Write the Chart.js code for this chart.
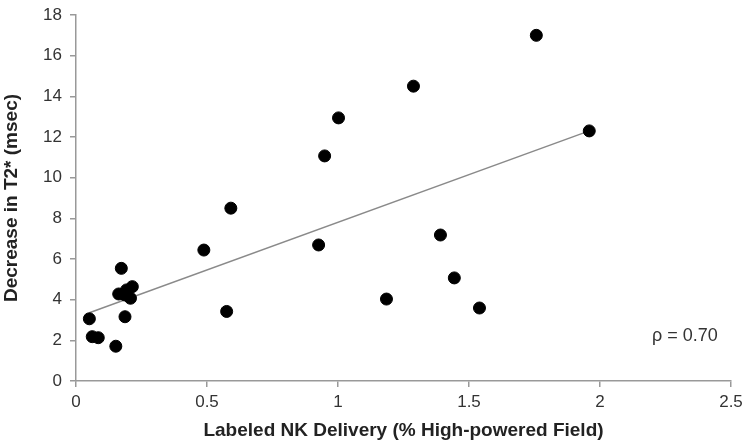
<!DOCTYPE html>
<html>
<head>
<meta charset="utf-8">
<script src="https://cdn.jsdelivr.net/npm/chart.js@4/dist/chart.umd.min.js"></script>
<style>
body { margin: 0; background: #fff; }
</style>
</head>
<body>
<canvas id="myChart" width="749" height="448"></canvas>
<script>
var xValues = [0.051, 0.062, 0.085, 0.152, 0.173, 0.163, 0.187, 0.193, 0.215, 0.208, 0.187,
               0.488, 0.575, 0.591, 0.926, 0.949, 1.002, 1.185, 1.288, 1.391, 1.444, 1.54, 1.757, 1.959];
var yValues = [3.06, 2.18, 2.13, 1.71, 5.54, 4.28, 3.16, 4.48, 4.64, 4.07, 4.23,
               6.44, 3.42, 8.5, 6.69, 11.07, 12.94, 4.03, 14.5, 7.18, 5.07, 3.59, 17.0, 12.3];
var trendX = [0.051, 1.959];
var trendY = [3.36, 12.3];
var xTicks = [0, 0.5, 1, 1.5, 2, 2.5];
var yTicks = [0, 2, 4, 6, 8, 10, 12, 14, 16, 18];
var rhoText = "\u03c1 = 0.70";

var points = xValues.map(function (x, i) { return { x: x, y: yValues[i] }; });
var trend = trendX.map(function (x, i) { return { x: x, y: trendY[i] }; });

var fontName = "'Liberation Sans', Arial, sans-serif";

var rhoPlugin = {
  id: "rho",
  afterDraw: function (chart) {
    var ctx = chart.ctx;
    ctx.save();
    ctx.font = "18px " + fontName;
    ctx.fillStyle = "#333";
    ctx.textAlign = "left";
    ctx.textBaseline = "middle";
    ctx.fillText(rhoText, 652, 336);
    ctx.restore();
  }
};

new Chart("myChart", {
  type: "scatter",
  data: {
    datasets: [{
      data: points,
      backgroundColor: "#000",
      borderColor: "#000",
      pointRadius: 6,
      pointHoverRadius: 6
    }, {
      type: "line",
      data: trend,
      borderColor: "#8a8a8a",
      borderWidth: 1.5,
      pointRadius: 0,
      fill: false
    }]
  },
  plugins: [rhoPlugin],
  options: {
    responsive: false,
    animation: false,
    layout: { padding: { top: 15, right: 18, left: 0, bottom: 6 } },
    plugins: {
      legend: { display: false },
      tooltip: { enabled: false }
    },
    scales: {
      x: {
        type: "linear",
        min: 0,
        max: 2.5,
        afterBuildTicks: function (s) { s.ticks = xTicks.map(function (v) { return { value: v }; }); },
        afterFit: function (s) { s.height = 61; s.paddingLeft = 0; s.paddingRight = 0; },
        border: { color: "#999", width: 1.5 },
        grid: { drawOnChartArea: false, color: "#999", tickLength: 6, lineWidth: 1.5 },
        ticks: {
          color: "#333",
          padding: 5,
          maxRotation: 0,
          callback: function (v) { return String(v); },
          font: { family: fontName, size: 17 }
        },
        title: {
          display: true,
          text: "Labeled NK Delivery (% High-powered Field)",
          color: "#222",
          padding: { top: 2, bottom: 0 },
          font: { family: fontName, size: 19, weight: "bold" }
        }
      },
      y: {
        min: 0,
        max: 18,
        afterBuildTicks: function (s) { s.ticks = yTicks.map(function (v) { return { value: v }; }); },
        afterFit: function (s) { s.width = 76; s.paddingTop = 0; s.paddingBottom = 0; },
        border: { color: "#999", width: 1.5 },
        grid: { drawOnChartArea: false, color: "#999", tickLength: 6, lineWidth: 1.5 },
        ticks: {
          color: "#333",
          padding: 8,
          font: { family: fontName, size: 17 }
        },
        title: {
          display: true,
          text: "Decrease in T2* (msec)",
          color: "#222",
          padding: { top: 0, bottom: 4 },
          font: { family: fontName, size: 19, weight: "bold" }
        }
      }
    }
  }
});
</script>
</body>
</html>
